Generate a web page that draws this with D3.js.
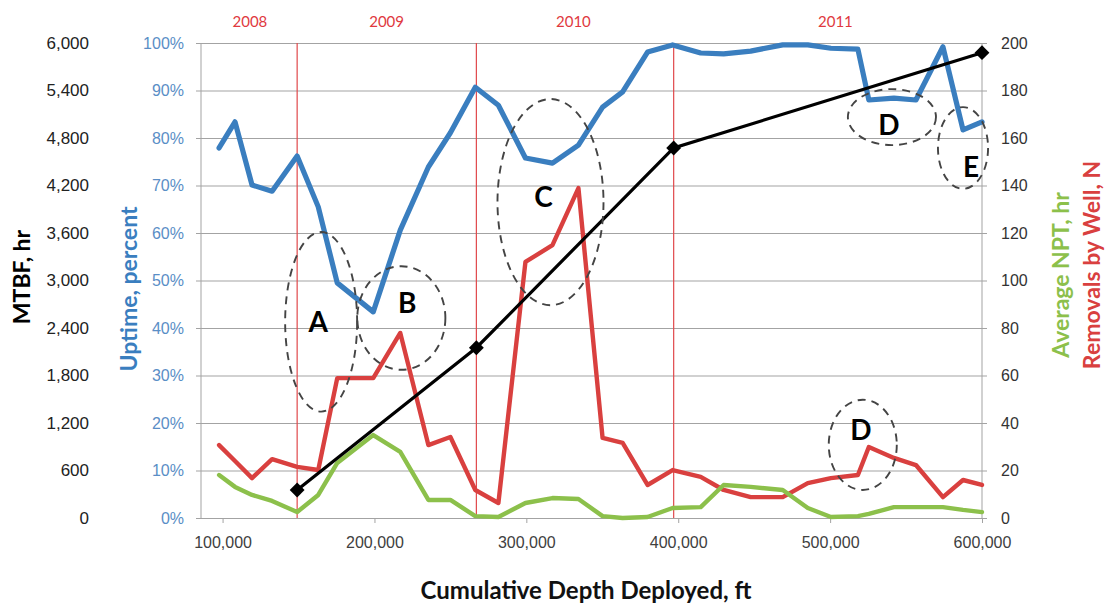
<!DOCTYPE html>
<html>
<head>
<meta charset="utf-8">
<script src="https://cdn.jsdelivr.net/npm/d3@7"></script>
<style>
  html, body { margin: 0; padding: 0; background: #fff; }
  svg { display: block; font-family: Lato, "Open Sans", sans-serif; }
</style>
</head>
<body>
<svg id="chart" width="1106" height="606"></svg>
<script>
// ---- data ----
const depth = [97700,108200,119400,132600,149100,163000,175500,199200,217000,235500,250000,266400,281600,299400,317200,334300,350200,363400,379800,396300,414800,429900,447700,468800,485300,500500,518300,525500,542000,556500,574300,587500,600000];
const uptime = [77.9,83.4,70.1,68.8,76.2,65.5,49.5,43.4,60.6,73.9,81.1,90.7,86.9,75.8,74.7,78.5,86.5,89.7,98.1,99.6,97.9,97.7,98.3,99.6,99.6,98.9,98.7,88.0,88.4,88.0,99.2,81.7,83.4];
const removals = [30.7,24.0,16.8,24.8,21.5,20.2,58.9,58.9,77.9,30.7,34.1,11.8,6.3,107.8,114.9,138.9,33.7,31.6,13.9,20.2,17.3,11.8,8.8,8.8,14.7,16.8,18.1,29.9,25.3,22.3,8.8,16.0,13.9];
const npt = [18.1,13.1,9.7,7.2,2.5,9.7,23.2,34.9,27.8,7.6,7.6,0.8,0.4,6.3,8.4,8.0,0.8,0,0.4,4.2,4.6,13.9,13.1,11.8,4.2,0.4,0.8,1.7,4.6,4.6,4.6,3.4,2.5];
const mtbfDepth = [149100, 267100, 397000, 600000];
const mtbf = [354, 2151, 4674, 5878];
const yearBoundaries = [149100, 267100, 397000];
const years = ["2008", "2009", "2010", "2011"];
const yearLabelDepth = [118000, 208000, 331000, 503500];
const xTicks = [100000, 200000, 300000, 400000, 500000, 600000];
const mtbfTicks = [0, 600, 1200, 1800, 2400, 3000, 3600, 4200, 4800, 5400, 6000];
const uptimeTicks = [0,10,20,30,40,50,60,70,80,90,100];
const rightTicks = [0,20,40,60,80,100,120,140,160,180,200];
// annotation ellipses: centre (depth, uptime %), radii (depth, uptime %)
const ellipseLabels = ["A", "B", "C", "D", "E", "D"];
const ellipseCx = [164900, 217700, 315900, 540700, 587500, 521500];
const ellipseCy = [41.3, 42.1, 66.5, 84.4, 77.9, 15.4];
const ellipseRx = [23700, 29000, 34900, 29000, 16500, 22400];
const ellipseRy = [18.9, 10.9, 21.7, 5.9, 8.6, 9.5];
const letterX = [162950, 221600, 311300, 538700, 592800, 520200];
const letterY = [41.3, 45.3, 67.6, 82.7, 73.9, 18.5];

// ---- layout ----
const L = 201, R = 982, T = 43, B = 518;
const svg = d3.select("#chart");

const x = d3.scaleLinear().domain([85800, 600000]).range([L, R]);
const yUp = d3.scaleLinear().domain([0, 100]).range([B, T]);
const yM = d3.scaleLinear().domain([0, 6000]).range([B, T]);
const yR = d3.scaleLinear().domain([0, 200]).range([B, T]);

// gridlines
const grid = svg.append("g").attr("transform", `translate(${L},0)`)
  .call(d3.axisLeft(yUp).tickValues(uptimeTicks).tickSize(-(R - L)).tickFormat(""));
grid.selectAll("line").attr("stroke", "#a3a3a3").attr("stroke-width", 1.2);
grid.select(".domain").remove();

// left uptime axis (with outward ticks)
const upAx = svg.append("g").attr("transform", `translate(${L},0)`)
  .call(d3.axisLeft(yUp).tickValues(uptimeTicks).tickSize(5).tickPadding(12).tickFormat(d => d + "%"));
upAx.select(".domain").attr("stroke", "#a3a3a3").attr("d", `M0,${T}V${B}`);
upAx.selectAll("line").attr("stroke", "#a3a3a3");
upAx.selectAll("text").attr("fill", "#5a8ec6").attr("font-size", 16);

// MTBF axis labels
const mAx = svg.append("g").attr("transform", `translate(92,0)`)
  .call(d3.axisLeft(yM).tickValues(mtbfTicks).tickSize(0).tickPadding(3).tickFormat(d3.format(",")));
mAx.select(".domain").remove();
mAx.selectAll("text").attr("fill", "#222").attr("font-size", 17);

// right axis
const rAx = svg.append("g").attr("transform", `translate(${R},0)`)
  .call(d3.axisRight(yR).tickValues(rightTicks).tickSize(5).tickPadding(14));
rAx.select(".domain").attr("stroke", "#a3a3a3").attr("d", `M0,${T}V${B}`);
rAx.selectAll("line").attr("stroke", "#a3a3a3");
rAx.selectAll("text").attr("fill", "#333").attr("font-size", 16);

// bottom axis
const xAx = svg.append("g").attr("transform", `translate(0,${B})`)
  .call(d3.axisBottom(x).tickValues(xTicks).tickSize(5).tickPadding(14).tickFormat(d3.format(",")));
xAx.select(".domain").remove();
xAx.selectAll("line").attr("stroke", "#a3a3a3");
xAx.selectAll("text").attr("fill", "#404040").attr("font-size", 16);

// year boundaries
svg.append("g").selectAll("line").data(yearBoundaries).join("line")
  .attr("x1", d => x(d)).attr("x2", d => x(d)).attr("y1", T).attr("y2", B)
  .attr("stroke", "#e0484b").attr("stroke-width", 1.2);
svg.append("g").selectAll("text").data(years).join("text")
  .attr("x", (d, i) => x(yearLabelDepth[i])).attr("y", 27)
  .attr("text-anchor", "middle").attr("fill", "#e0393e").attr("font-size", 15)
  .text(d => d);

// series
function drawLine(vals, yScale, color, width) {
  const line = d3.line().x((d, i) => x(depth[i])).y(d => yScale(d));
  svg.append("path").datum(vals).attr("d", line)
    .attr("fill", "none").attr("stroke", color).attr("stroke-width", width)
    .attr("stroke-linejoin", "round").attr("stroke-linecap", "round");
}
drawLine(removals, yR, "#d9403f", 4.4);
drawLine(npt, yR, "#8cc04b", 4.4);
drawLine(uptime, yUp, "#3a7ebf", 5.2);

const mLine = d3.line().x((d, i) => x(mtbfDepth[i])).y(d => yM(d));
svg.append("path").datum(mtbf).attr("d", mLine)
  .attr("fill", "none").attr("stroke", "#000").attr("stroke-width", 3.2);
svg.append("g").selectAll("path").data(mtbf).join("path")
  .attr("d", d3.symbol(d3.symbolSquare, 110))
  .attr("transform", (d, i) => `translate(${x(mtbfDepth[i])},${yM(d)}) rotate(45)`)
  .attr("fill", "#000");

// annotations
const ann = svg.append("g");
ann.selectAll("ellipse").data(ellipseLabels).join("ellipse")
  .attr("cx", (d, i) => x(ellipseCx[i]))
  .attr("cy", (d, i) => yUp(ellipseCy[i]))
  .attr("rx", (d, i) => x(ellipseRx[i]) - x(0))
  .attr("ry", (d, i) => yUp(0) - yUp(ellipseRy[i]))
  .attr("fill", "none").attr("stroke", "#444").attr("stroke-width", 1.9)
  .attr("stroke-dasharray", "8,6");
ann.selectAll("text").data(ellipseLabels).join("text")
  .attr("x", (d, i) => x(letterX[i]))
  .attr("y", (d, i) => yUp(letterY[i]))
  .attr("dy", "0.36em")
  .attr("text-anchor", "middle").attr("font-weight", "bold").attr("font-size", 28)
  .attr("fill", "#000").text(d => d);

// axis titles
function vTitle(txt, cx, cy, color) {
  svg.append("text").attr("transform", `translate(${cx},${cy}) rotate(-90)`)
    .attr("text-anchor", "middle").attr("dy", "0.35em")
    .attr("font-weight", "bold").attr("font-size", 23).attr("fill", color).text(txt);
}
vTitle("MTBF, hr", 22, 277, "#000");
vTitle("Uptime, percent", 129, 289, "#3a7ebf");
vTitle("Average NPT, hr", 1061, 275, "#8cc04b");
vTitle("Removals by Well, N", 1092, 265, "#d9403f");

svg.append("text").attr("x", 586).attr("y", 591).attr("dy", "0.35em")
  .attr("text-anchor", "middle").attr("font-weight", "bold").attr("font-size", 24)
  .attr("fill", "#111").text("Cumulative Depth Deployed, ft");
</script>
</body>
</html>
